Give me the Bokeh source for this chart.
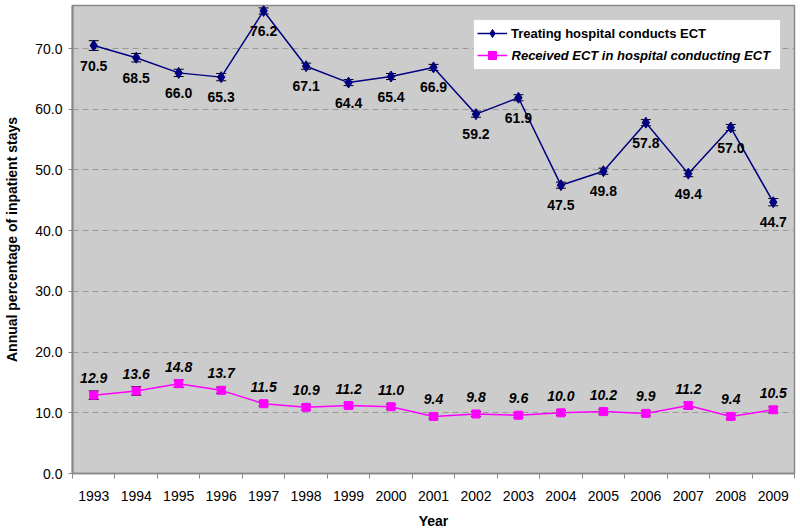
from bokeh.plotting import figure
from bokeh.models import (Range1d, FixedTicker, PrintfTickFormatter, ColumnDataSource,
                          Whisker, TeeHead, Legend, LegendItem, Label, BoxAnnotation)
from bokeh.core.properties import value
from bokeh.embed import file_html
from bokeh.resources import INLINE

years = [1993, 1994, 1995, 1996, 1997, 1998, 1999, 2000, 2001, 2002, 2003,
         2004, 2005, 2006, 2007, 2008, 2009]
treating = [70.5, 68.5, 66.0, 65.3, 76.2, 67.1, 64.4, 65.4, 66.9, 59.2, 61.9,
            47.5, 49.8, 57.8, 49.4, 57.0, 44.7]
treating_err = [0.8, 0.7, 0.6, 0.6, 0.5, 0.5, 0.5, 0.5, 0.5, 0.5, 0.5,
                0.5, 0.5, 0.5, 0.5, 0.5, 0.6]
received = [12.9, 13.6, 14.8, 13.7, 11.5, 10.9, 11.2, 11.0, 9.4, 9.8, 9.6,
            10.0, 10.2, 9.9, 11.2, 9.4, 10.5]
received_err = [0.7, 0.7, 0.6, 0.5, 0.4, 0.4, 0.4, 0.4, 0.4, 0.4, 0.4,
                0.4, 0.4, 0.4, 0.5, 0.4, 0.5]
y_ticks = [0, 10, 20, 30, 40, 50, 60, 70]
name_treat = "Treating hospital conducts ECT"
name_recv = "Received ECT in hospital conducting ECT"

FONT = "Liberation Sans"
idx = list(range(len(years)))

src_t = ColumnDataSource(dict(
    x=idx, y=treating,
    upper=[v + e for v, e in zip(treating, treating_err)],
    lower=[v - e for v, e in zip(treating, treating_err)],
    lab=[f"{v:.1f}" for v in treating]))
src_r = ColumnDataSource(dict(
    x=idx, y=received,
    upper=[v + e for v, e in zip(received, received_err)],
    lower=[v - e for v, e in zip(received, received_err)],
    lab=[f"{v:.1f}" for v in received]))

YMAX = 77.1
p = figure(width=800, height=531, x_range=Range1d(-0.5, len(years) - 0.5),
           y_range=Range1d(0, YMAX), output_backend="svg", toolbar_location=None,
           min_border_left=72, min_border_right=6, min_border_top=5, min_border_bottom=58)

p.background_fill_color = "#CCCCCC"
p.border_fill_color = "white"
p.outline_line_color = "#888888"
p.outline_line_width = 1.5

# grid
p.xgrid.visible = False
p.ygrid.ticker = FixedTicker(ticks=y_ticks[1:])
p.ygrid.grid_line_color = "#9a9a9a"
p.ygrid.grid_line_dash = "6 4"
p.ygrid.grid_line_width = 1

# x axis
p.xaxis.ticker = FixedTicker(ticks=idx, minor_ticks=[i - 0.5 for i in range(len(years) + 1)])
p.xaxis.major_label_overrides = {i: str(y) for i, y in zip(idx, years)}
p.xaxis.major_tick_out = 0
p.xaxis.major_tick_in = 0
p.xaxis.minor_tick_out = 5
p.xaxis.minor_tick_in = 0
p.xaxis.minor_tick_line_color = "#888888"
p.xaxis.axis_line_color = "#888888"
p.xaxis.axis_line_width = 1.5
p.xaxis.major_label_standoff = 12
p.xaxis.axis_label = "Year"
p.xaxis.axis_label_standoff = 9

# y axis
p.yaxis.ticker = FixedTicker(ticks=y_ticks)
p.yaxis.formatter = PrintfTickFormatter(format="%.1f")
p.yaxis.major_tick_out = 4
p.yaxis.major_tick_in = 0
p.yaxis.minor_tick_line_color = None
p.yaxis.major_tick_line_color = "#888888"
p.yaxis.axis_line_color = "#888888"
p.yaxis.axis_line_width = 2
p.yaxis.major_label_standoff = 6
p.yaxis.axis_label = "Annual percentage of inpatient stays"
p.yaxis.axis_label_standoff = 12

for ax in (p.xaxis[0], p.yaxis[0]):
    ax.major_label_text_font = FONT
    ax.major_label_text_font_size = "14px"
    ax.major_label_text_color = "black"
    ax.axis_label_text_font = FONT
    ax.axis_label_text_font_size = "14px"
    ax.axis_label_text_font_style = "bold"
    ax.axis_label_text_color = "black"

# lines and markers
lt = p.line("x", "y", source=src_t, line_color="#000080", line_width=1.5)
p.add_layout(Whisker(source=src_t, base="x", upper="upper", lower="lower",
                     line_color="black", line_width=1,
                     upper_head=TeeHead(size=10, line_color="black", line_width=1),
                     lower_head=TeeHead(size=10, line_color="black", line_width=1)))
mt = p.scatter("x", "y", source=src_t, marker="diamond", size=11,
               fill_color="#000080", line_color="#000080")

lr = p.line("x", "y", source=src_r, line_color="#FF00FF", line_width=1.5)
p.add_layout(Whisker(source=src_r, base="x", upper="upper", lower="lower",
                     line_color="black", line_width=1,
                     upper_head=TeeHead(size=10, line_color="black", line_width=1),
                     lower_head=TeeHead(size=10, line_color="black", line_width=1)))
mr = p.scatter("x", "y", source=src_r, marker="square", size=8,
               fill_color="#FF00FF", line_color="#FF00FF")

# data labels
p.text("x", "y", text="lab", source=src_t, text_font=value(FONT), text_font_size="14px",
       text_font_style="bold", text_align="center", text_baseline="top",
       y_offset=15, text_color="black")
p.text("x", "y", text="lab", source=src_r, text_font=value(FONT), text_font_size="14px",
       text_font_style="bold italic", text_align="center", text_baseline="alphabetic",
       y_offset=-17, text_color="black")

# legend box (white, behind a transparent legend)
p.add_layout(BoxAnnotation(left=8.942, right=16.171, top=74.79, bottom=66.56,
                           fill_color="white", fill_alpha=1.0,
                           line_color="#999999", line_width=1, level="annotation"))
legend = Legend(items=[LegendItem(label=name_treat, renderers=[lt, mt]),
                       LegendItem(label=" ", renderers=[lr, mr])],
                location="top_right", margin=14, padding=4, spacing=2,
                glyph_width=30, glyph_height=20, label_standoff=4, label_width=265,
                label_text_font=FONT, label_text_font_size="13px",
                label_text_font_style="bold", label_text_color="black",
                background_fill_alpha=0.0, border_line_alpha=0.0)
p.add_layout(legend, "center")
p.add_layout(Label(x=9.837, y=68.86, text=name_recv, text_font=FONT,
                   text_font_size="13px", text_font_style="bold italic",
                   text_align="left", text_baseline="middle", text_color="black"))

open("out.html", "w").write(file_html(p, INLINE))
